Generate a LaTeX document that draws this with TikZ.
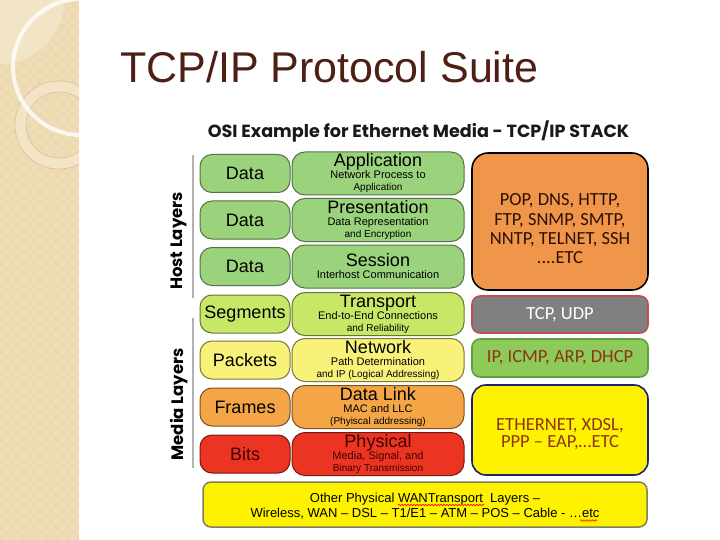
\documentclass[tikz,border=0pt]{standalone}
\usepackage{fontspec}
\setmainfont{Liberation Sans}
\newfontfamily\carl{Carlito}
\newfontfamily\pop{Poppins}
\usetikzlibrary{decorations.pathmorphing,patterns}
\definecolor{strip}{HTML}{EFDDB6}
\definecolor{striplight}{HTML}{F3E6C9}
\definecolor{ringline}{HTML}{D8C295}
\definecolor{titlecol}{HTML}{4E1F15}
\definecolor{gA}{HTML}{9BD27C}
\definecolor{gB}{HTML}{C9E767}
\definecolor{gC}{HTML}{F8F27A}
\definecolor{gD}{HTML}{F4A546}
\definecolor{gE}{HTML}{EC3422}
\definecolor{rOr}{HTML}{F0964B}
\definecolor{rGr}{HTML}{808080}
\definecolor{rGrB}{HTML}{C0504D}
\definecolor{rIp}{HTML}{8DCA5A}
\definecolor{rIpB}{HTML}{5EA040}
\definecolor{rYeB}{HTML}{20207A}
\definecolor{rtext}{HTML}{8E3414}
\definecolor{botline}{HTML}{7F7F62}
\newcommand\ttlf{\fontsize{18}{18}\selectfont}
\newcommand\sbtf{\fontsize{11}{11.6}\selectfont}
\begin{document}
\begin{tikzpicture}[x=1pt,y=-1pt,
  lbox/.style={rounded corners=12, line width=1, minimum width=90, minimum height=38, inner sep=0, font=\ttlf},
  mbox/.style={rounded corners=13, line width=1, minimum width=172, minimum height=43, inner sep=0, align=center},
  rbox/.style={minimum width=176, inner sep=0, align=center, font=\carl\fontsize{18.5}{19.3}\selectfont, text=rtext},
  rtxt/.style={inner sep=0, align=center, font=\carl\fontsize{18.5}{19.3}\selectfont, text=rtext},
  vline/.style={draw=gray!60, line width=2},
  sidelab/.style={rotate=90, font=\pop\bfseries\fontsize{16.5}{16.5}\selectfont},
  squig/.style={draw=red, line width=0.6, decorate, decoration={snake, amplitude=0.8, segment length=3}}]
\useasboundingbox (0,0) rectangle (720,540);
\fill[white] (0,0) rectangle (720,540);
% decorative strip
\begin{scope}
\clip (0,0) rectangle (79,540);
\fill[strip] (0,0) rectangle (79,540);
\fill[pattern=checkerboard, pattern color=strip!85!brown, opacity=0.25] (0,0) rectangle (79,540);
\fill[striplight, opacity=0.85] (0,0) circle[radius=64];
\fill[striplight, opacity=0.85, even odd rule] (59,125) circle[radius=44] (59,125) circle[radius=33];
\draw[ringline, line width=0.6] (59,125) circle[radius=44];
\draw[ringline, line width=0.6] (59,125) circle[radius=33];
\draw[white, line width=4, opacity=0.8] (81,67) circle[radius=68];
\end{scope}
% title
\node[anchor=base west, inner sep=0, font=\fontsize{43}{43}\selectfont, text=titlecol] (title) at (120,83) {TCP/IP Protocol Suite};
\node[font=\pop\bfseries\fontsize{17.6}{17.6}\selectfont, text=black!90] (head) at (418.5,131) {OSI Example for Ethernet Media - TCP/IP STACK};
% side labels
\draw[vline] (193,155) -- (193,298);
\draw[vline] (193,318) -- (193,468);
\node[sidelab] (host) at (179,241) {Host Layers};
\node[sidelab] (media) at (179,404.5) {Media Layers};
% left column
\node[lbox, fill=gA, draw=gA!55!black] (d1) at (245,173.5) {Data};
\node[lbox, fill=gA, draw=gA!55!black] (d2) at (245,220) {Data};
\node[lbox, fill=gA, draw=gA!55!black] (d3) at (245,266.5) {Data};
\node[lbox, fill=gB, draw=gB!50!black] (d4) at (245,314) {Segments};
\node[lbox, fill=gC, draw=gC!50!black] (d5) at (245,360) {Packets};
\node[lbox, fill=gD, draw=gD!50!black] (d6) at (245,407) {Frames};
\node[lbox, fill=gE, draw=gE!50!black, text=black!75!red] (d7) at (245,454) {Bits};
% middle column
\node[mbox, fill=gA, draw=gA!55!black] (m1) at (378,173.5) {\ttlf Application\\\sbtf Network Process to\\Application};
\node[mbox, fill=gA, draw=gA!55!black] (m2) at (378,220) {\ttlf Presentation\\\sbtf Data Representation\\and Encryption};
\node[mbox, fill=gA, draw=gA!55!black] (m3) at (378,266.5) {\ttlf Session\\\sbtf Interhost Communication};
\node[mbox, fill=gB, draw=gB!50!black] (m4) at (378,314) {\ttlf Transport\\\sbtf End-to-End Connections\\and Reliability};
\node[mbox, fill=gC, draw=gC!50!black] (m5) at (378,360) {\ttlf Network\\\sbtf Path Determination\\and IP (Logical Addressing)};
\node[mbox, fill=gD, draw=gD!50!black] (m6) at (378,407) {\ttlf Data Link\\\sbtf MAC and LLC\\(Phyiscal addressing)};
\node[mbox, fill=gE, draw=gE!50!black, text=black!75!red] (m7) at (378,454) {\ttlf Physical\\\sbtf Media, Signal, and\\Binary Transmission};
% right column
\node[rbox, fill=rOr, draw=black, line width=1.6, minimum height=137, rounded corners=16] (r1) at (560,221.5) {};
\node[rtxt, text=black!70!rtext] (r1t) at (560,229) {POP, DNS, HTTP,\\FTP, SNMP, SMTP,\\NNTP, TELNET, SSH\\....ETC};
\node[rbox, fill=rGr, draw=rGrB, line width=1.6, minimum height=37, rounded corners=8, text=white] (r2) at (560,314.5) {TCP, UDP};
\node[rbox, fill=rIp, draw=rIpB, line width=1.6, minimum height=38, rounded corners=8] (r3) at (560,358) {IP, ICMP, ARP, DHCP};
\node[rbox, fill=yellow, draw=rYeB, line width=1.6, minimum height=90, rounded corners=14] (r4) at (560,430) {};
\node[rtxt, font=\carl\fontsize{18.5}{17}\selectfont] (r4t) at (560,434) {ETHERNET, XDSL,\\PPP – EAP,…ETC};
% bottom
\node[draw=botline, fill=yellow, line width=1.5, rounded corners=8, minimum width=444, minimum height=45, inner sep=0] (bot) at (425,504.5) {};
\node[inner sep=0, align=center, font=\fontsize{13}{15}\selectfont] (bott) at (425,506.5) {Other Physical WANTransport\ \ Layers –\\Wireless, WAN – DSL – T1/E1 – ATM – POS – Cable - …etc};
\draw[squig] (398,505) -- (484,505);
\draw[squig] (580,520.5) -- (597,520.5);
\end{tikzpicture}
\end{document}
